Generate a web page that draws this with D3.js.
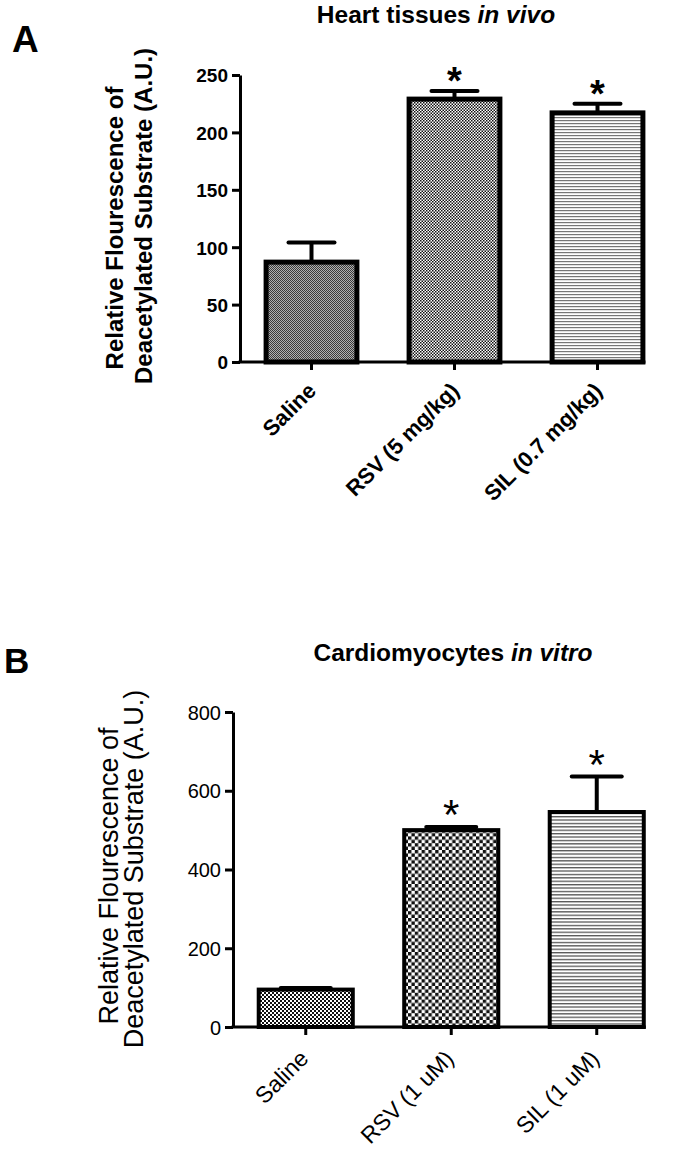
<!DOCTYPE html>
<html lang="en">
<head>
<meta charset="UTF-8">
<title>Deacetylation activity</title>
<script src="https://d3js.org/d3.v7.min.js"></script>
<style>
  body { margin: 0; background: #fff; }
  svg { display: block; font-family: "Liberation Sans", Arial, sans-serif; }
</style>
</head>
<body>
<svg id="chart" width="684" height="1160"></svg>
<script>
// panel A - heart tissues in vivo
const categoriesA = ["Saline", "RSV (5 mg/kg)", "SIL (0.7 mg/kg)"];
const meansA = [87, 229, 217];
const errorsA = [17, 7, 8];
const starsA = [false, true, true];
const ticksA = [0, 50, 100, 150, 200, 250];

// panel B - cardiomyocytes in vitro
const categoriesB = ["Saline", "RSV (1 uM)", "SIL (1 uM)"];
const meansB = [95, 500, 546];
const errorsB = [4, 8, 90];
const starsB = [false, true, true];
const ticksB = [0, 200, 400, 600, 800];

const svg = d3.select("#chart");
const defs = svg.append("defs");

function checker(id, cell, dark, light) {
    const p = defs.append("pattern").attr("id", id)
        .attr("patternUnits", "userSpaceOnUse")
        .attr("width", cell * 2).attr("height", cell * 2);
    p.append("rect").attr("width", cell * 2).attr("height", cell * 2).attr("fill", light);
    p.append("rect").attr("width", cell).attr("height", cell).attr("fill", dark);
    p.append("rect").attr("x", cell).attr("y", cell).attr("width", cell).attr("height", cell).attr("fill", dark);
}

function hlines(id, gap, w, color) {
    const p = defs.append("pattern").attr("id", id)
        .attr("patternUnits", "userSpaceOnUse")
        .attr("width", 8).attr("height", gap);
    p.append("rect").attr("width", 8).attr("height", gap).attr("fill", "#fff");
    p.append("rect").attr("width", 8).attr("height", w).attr("fill", color);
}

checker("pA0", 1, "#3a3a3a", "#b0b0b0");
checker("pA1", 1.5, "#111", "#fff");
hlines("pA2", 3, 1.2, "#777");
checker("pB0", 2, "#111", "#fff");
checker("pB1", 3.4, "#111", "#fff");
hlines("pB2", 3.4, 1.3, "#555");

function drawPanel(o) {
    const g = svg.append("g");
    const weight = o.bold ? "bold" : "normal";

    const x = d3.scaleBand().domain(o.cats).range([o.left, o.right])
        .paddingInner(o.padIn).paddingOuter(o.padIn / 2);
    const y = d3.scaleLinear().domain([0, d3.max(o.ticks)]).range([o.bottom, o.top]);

    // bars
    const half = o.barStroke / 2;
    g.selectAll(".bar").data(o.means).enter().append("rect")
        .attr("x", (d, i) => x(o.cats[i]) + half)
        .attr("y", d => y(d))
        .attr("width", x.bandwidth() - o.barStroke)
        .attr("height", d => y(0) - y(d))
        .attr("fill", (d, i) => "url(#" + o.patterns[i] + ")")
        .attr("stroke", "#000").attr("stroke-width", o.barStroke);

    // error bars (upper only)
    o.means.forEach((m, i) => {
        const cx = x(o.cats[i]) + x.bandwidth() / 2;
        g.append("line").attr("x1", cx).attr("x2", cx)
            .attr("y1", y(m)).attr("y2", y(m + o.errs[i]))
            .attr("stroke", "#000").attr("stroke-width", o.errStroke);
        g.append("line").attr("x1", cx - o.capW / 2).attr("x2", cx + o.capW / 2)
            .attr("y1", y(m + o.errs[i])).attr("y2", y(m + o.errs[i]))
            .attr("stroke", "#000").attr("stroke-width", o.errStroke)
            .attr("stroke-linecap", "round");
        if (o.stars[i]) {
            g.append("text").attr("x", cx)
                .attr("y", y(m + o.errs[i]) - o.starGap + 0.58 * o.starSize)
                .attr("text-anchor", "middle")
                .attr("font-size", o.starSize).attr("font-weight", weight)
                .text("*");
        }
    });

    // y axis
    const ya = g.append("g").attr("transform", `translate(${o.left},0)`)
        .call(d3.axisLeft(y).tickValues(o.ticks).tickSize(8).tickSizeOuter(0).tickPadding(4));
    ya.select(".domain").attr("stroke-width", o.axisStroke);
    ya.selectAll(".tick line").attr("stroke-width", o.axisStroke);
    ya.selectAll(".tick text").attr("font-size", o.tickFont).attr("font-weight", weight)
        .attr("fill", "#000").attr("dy", "0.36em").attr("font-family", null);

    // x axis
    const xa = g.append("g").attr("transform", `translate(0,${o.bottom})`)
        .call(d3.axisBottom(x).tickSize(8).tickSizeOuter(0));
    xa.select(".domain").remove();
    xa.selectAll(".tick line").attr("stroke-width", o.axisStroke);
    xa.selectAll(".tick text").attr("font-size", o.xFont).attr("font-weight", weight)
        .attr("font-family", null).attr("fill", "#000")
        .attr("y", 0).attr("dy", 0).attr("text-anchor", "end")
        .attr("transform", `translate(${o.labelDx},${o.labelDy}) rotate(-45)`);
    const lastCat = o.cats[o.cats.length - 1];
    g.append("line").attr("x1", o.left - o.axisStroke / 2).attr("x2", x(lastCat) + x.bandwidth())
        .attr("y1", o.bottom).attr("y2", o.bottom)
        .attr("stroke", "#000").attr("stroke-width", o.axisStroke);

    // y title, two lines
    o.yLines.forEach((t, i) => {
        g.append("text")
            .attr("transform", `translate(${o.yLineX[i]},${o.yLineMid[i]}) rotate(-90)`)
            .attr("text-anchor", "middle")
            .attr("font-size", o.yFont).attr("font-weight", weight)
            .text(t);
    });

    // title
    const tt = g.append("text").attr("x", o.titleX).attr("y", o.titleY)
        .attr("text-anchor", "middle").attr("font-size", o.titleFont).attr("font-weight", "bold");
    tt.append("tspan").text(o.title[0]);
    tt.append("tspan").attr("font-style", "italic").text(o.title[1]);

    // panel letter
    g.append("text").attr("x", o.letterX).attr("y", o.letterY)
        .attr("font-size", o.letterFont).attr("font-weight", "bold").text(o.letter);
}

drawPanel({
    cats: categoriesA, means: meansA, errs: errorsA, stars: starsA, ticks: ticksA,
    left: 240, right: 669, top: 75, bottom: 362, padIn: 0.33,
    bold: true, barStroke: 5, errStroke: 4, axisStroke: 3, capW: 46,
    patterns: ["pA0", "pA1", "pA2"],
    starSize: 38, starGap: 19,
    tickFont: 19, xFont: 22, labelDx: 6, labelDy: 30,
    yLines: ["Relative Flourescence of", "Deacetylated Substrate (A.U.)"],
    yLineX: [123, 152], yLineMid: [228, 216], yFont: 24,
    title: ["Heart tissues ", "in vivo"], titleX: 436, titleY: 23, titleFont: 24.5,
    letter: "A", letterX: 12, letterY: 52, letterFont: 37
});

drawPanel({
    cats: categoriesB, means: meansB, errs: errorsB, stars: starsB, ticks: ticksB,
    left: 233, right: 669.5, top: 712, bottom: 1027, padIn: 0.326,
    bold: false, barStroke: 4, errStroke: 4, axisStroke: 3, capW: 50,
    patterns: ["pB0", "pB1", "pB2"],
    starSize: 42, starGap: 22,
    tickFont: 20, xFont: 23, labelDx: 4, labelDy: 33,
    yLines: ["Relative Flourescence of", "Deacetylated Substrate (A.U.)"],
    yLineX: [118, 143], yLineMid: [876, 869], yFont: 27,
    title: ["Cardiomyocytes ", "in vitro"], titleX: 453, titleY: 661, titleFont: 24.5,
    letter: "B", letterX: 4, letterY: 673, letterFont: 35
});
</script>
</body>
</html>
